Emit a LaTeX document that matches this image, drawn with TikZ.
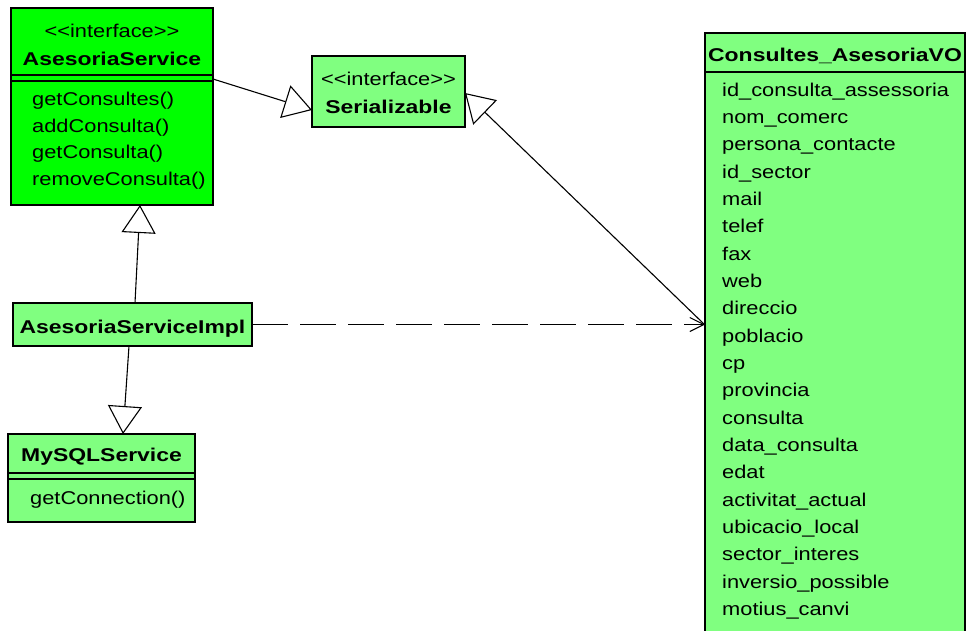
\documentclass[tikz,border=0pt]{standalone}
\usepackage{fontspec}
\setmainfont{Liberation Sans}
\newfontfamily\umlreg{Liberation Sans}[FakeStretch=1.18]
\newfontfamily\umlbold{Liberation Sans}[FakeStretch=1.24]
\usetikzlibrary{arrows.meta,calc}
\definecolor{ifgreen}{RGB}{0,255,0}
\definecolor{clgreen}{RGB}{128,255,128}
\tikzset{
 umlbox/.style={draw=black, line width=1.6pt, anchor=north west, inner sep=0pt, outer sep=0pt},
 sepline/.style={draw=black, line width=1.3pt},
 regtext/.style={font=\umlreg\fontsize{18.5}{20}\selectfont, inner sep=0pt},
 boldtext/.style={font=\umlbold\bfseries\fontsize{18.5}{20}\selectfont, inner sep=0pt},
 gen/.style={line width=1.1pt, -{Triangle[open,length=28pt,width=34pt,line width=1.1pt]}},
 dep/.style={line width=1.3pt, dash pattern=on 36pt off 12pt, -{Straight Barb[length=14pt,width=14pt,line width=1.1pt]}},
}
\begin{document}
\begin{tikzpicture}[x=1pt,y=-1pt]
\useasboundingbox[fill=white] (0,0) rectangle (968,630);

% AsesoriaService
\node[umlbox, fill=ifgreen, minimum width=202pt, minimum height=197pt] (as) at (11,8) {};
\draw[sepline] (as.west |- 0,75) -- (as.east |- 0,75);
\draw[sepline] (as.west |- 0,81) -- (as.east |- 0,81);
\node[regtext, anchor=base] (as-st) at (as.north |- 0,37) {\textless\textless interface\textgreater\textgreater};
\node[boldtext, anchor=base] (as-name) at (as.north |- 0,65) {AsesoriaService};
\node[regtext, anchor=base west] (as-m1) at (32,105) {getConsultes()};
\node[regtext, anchor=base west] (as-m2) at (32,132) {addConsulta()};
\node[regtext, anchor=base west] (as-m3) at (32,158) {getConsulta()};
\node[regtext, anchor=base west] (as-m4) at (32,185) {removeConsulta()};

% Serializable
\node[umlbox, fill=clgreen, minimum width=153pt, minimum height=71pt] (ser) at (312,56) {};
\node[regtext, anchor=base] (ser-st) at (ser.north |- 0,85) {\textless\textless interface\textgreater\textgreater};
\node[boldtext, anchor=base] (ser-name) at (ser.north |- 0,113) {Serializable};

% AsesoriaServiceImpl
\node[umlbox, fill=clgreen, minimum width=239pt, minimum height=43pt] (impl) at (13,303) {};
\node[boldtext, anchor=base] (impl-name) at (impl.north |- 0,333) {AsesoriaServiceImpl};

% MySQLService
\node[umlbox, fill=clgreen, minimum width=187pt, minimum height=88pt] (mysql) at (8,434) {};
\draw[sepline] (mysql.west |- 0,473) -- (mysql.east |- 0,473);
\draw[sepline] (mysql.west |- 0,479) -- (mysql.east |- 0,479);
\node[boldtext, anchor=base] (mysql-name) at (mysql.north |- 0,461) {MySQLService};
\node[regtext, anchor=base west] (mysql-m1) at (30,504) {getConnection()};

% Consultes_AsesoriaVO
\node[fill=clgreen, anchor=north west, minimum width=260pt, minimum height=600pt, inner sep=0pt, outer sep=0pt] (vo) at (705,33) {};
\draw[line width=1.6pt] (vo.south west) -- (vo.north west) -- (vo.north east) -- (vo.south east);
\draw[sepline] (vo.west |- 0,72) -- (vo.east |- 0,72);
\node[boldtext, anchor=base] (vo-name) at (vo.north |- 0,61) {Consultes\_AsesoriaVO};
\foreach \t [count=\i from 0] in {id\_consulta\_assessoria, nom\_comerc, persona\_contacte, id\_sector, mail, telef, fax, web, direccio, poblacio, cp, provincia, consulta, data\_consulta, edat, activitat\_actual, ubicacio\_local, sector\_interes, inversio\_possible, motius\_canvi}
  \node[regtext, anchor=base west] (vo-\i) at (722,{96+27.35*\i}) {\t};

% connectors
\draw[gen] ([xshift=2.5pt]impl.north) -- ([xshift=28pt]as.south);
\draw[gen] ([xshift=-3.5pt]impl.south) -- ([xshift=21.5pt]mysql.north);
\draw[gen] (as.east |- 0,79) -- (ser.west |- 0,110);
\draw[gen] (vo.west |- 0,325) -- (ser.east |- 0,93);
\draw[dep] (impl.east) -- (vo.west |- impl.east);
\end{tikzpicture}
\end{document}
